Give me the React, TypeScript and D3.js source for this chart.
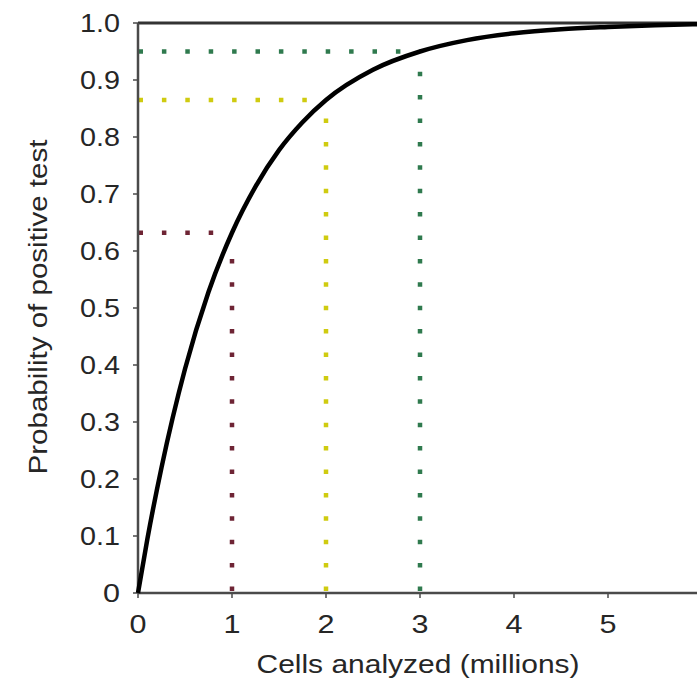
import React from "react";
import * as d3 from "d3";

const curveX = [0, 0.1, 0.25, 0.5, 0.75, 1, 1.25, 1.5, 1.75, 2, 2.5, 3, 3.5, 4, 4.5, 5, 5.5, 6];
const curveY = [0, 0.095, 0.22, 0.393, 0.528, 0.632, 0.713, 0.777, 0.826, 0.865, 0.918, 0.95, 0.97, 0.982, 0.989, 0.993, 0.996, 0.998];

const markerX = [1, 2, 3];
const markerY = [0.632, 0.865, 0.95];
const markerColors = ["#6e2434", "#cfcb10", "#2f7a4e"];

const xTicks = [0, 1, 2, 3, 4, 5];
const xTickLabels = ["0", "1", "2", "3", "4", "5"];
const yTicks = [0, 0.1, 0.2, 0.3, 0.4, 0.5, 0.6, 0.7, 0.8, 0.9, 1.0];
const yTickLabels = ["0", "0.1", "0.2", "0.3", "0.4", "0.5", "0.6", "0.7", "0.8", "0.9", "1.0"];

const W = 697;
const H = 681;
const FONT = "'Liberation Sans', Arial, Helvetica, sans-serif";

export default function App() {
  const x = d3.scaleLinear().domain([0, 6]).range([138, 702]);
  const y = d3.scaleLinear().domain([0, 1]).range([593, 23]);
  const pts: [number, number][] = curveX.map((v, i) => [v, curveY[i]]);
  const line = d3
    .line<[number, number]>()
    .x((d) => x(d[0]))
    .y((d) => y(d[1]))
    .curve(d3.curveMonotoneX);

  const axisColor = "#4a4a4a";
  const dash = "4.5 18.9";
  const textColor = "#262626";

  return (
    <svg
      width={W}
      height={H}
      style={{ position: "absolute", left: 0, top: 0, background: "#fff" }}
    >
      {/* marker dotted lines */}
      {markerX.map((mx, i) => (
        <g key={i}>
          <line
            x1={x(0) + 0.5}
            x2={x(mx)}
            y1={y(markerY[i])}
            y2={y(markerY[i])}
            stroke={markerColors[i]}
            strokeWidth={4.5}
            strokeDasharray={dash}
          />
          <line
            x1={x(mx)}
            x2={x(mx)}
            y1={y(0) - 2}
            y2={y(markerY[i]) + 8}
            stroke={markerColors[i]}
            strokeWidth={4.5}
            strokeDasharray={dash}
          />
        </g>
      ))}

      {/* top border */}
      <line x1={x(0)} x2={W} y1={y(1)} y2={y(1)} stroke="#333" strokeWidth={3} />
      {/* axes */}
      <line x1={x(0)} x2={x(0)} y1={y(1)} y2={y(0)} stroke={axisColor} strokeWidth={2.5} />
      <line x1={x(0)} x2={W} y1={y(0)} y2={y(0)} stroke={axisColor} strokeWidth={2.5} />

      {/* y ticks */}
      {yTicks.map((t, i) => (
        <g key={"y" + i}>
          <line x1={x(0) - 5} x2={x(0)} y1={y(t)} y2={y(t)} stroke={axisColor} strokeWidth={1.5} />
          <text
            x={120}
            y={y(t) + 9}
            textAnchor="end"
            fontFamily={FONT}
            fontSize={26}
            fill={textColor}
            textLength={yTickLabels[i].length === 1 ? 17 : 40}
            lengthAdjust="spacingAndGlyphs"
          >
            {yTickLabels[i]}
          </text>
        </g>
      ))}

      {/* x ticks */}
      {xTicks.map((t, i) => (
        <g key={"x" + i}>
          <line x1={x(t)} x2={x(t)} y1={y(0)} y2={y(0) + 5} stroke={axisColor} strokeWidth={1.5} />
          <text
            x={x(t)}
            y={633}
            textAnchor="middle"
            fontFamily={FONT}
            fontSize={26}
            fill={textColor}
            textLength={17}
            lengthAdjust="spacingAndGlyphs"
          >
            {xTickLabels[i]}
          </text>
        </g>
      ))}

      {/* curve */}
      <path d={line(pts) || ""} fill="none" stroke="#000" strokeWidth={4.5} />

      {/* axis titles */}
      <text
        x={418}
        y={673}
        textAnchor="middle"
        fontFamily={FONT}
        fontSize={26}
        fill={textColor}
        textLength={323}
        lengthAdjust="spacingAndGlyphs"
      >
        Cells analyzed (millions)
      </text>
      <text
        transform={`translate(47, 307) rotate(-90)`}
        textAnchor="middle"
        fontFamily={FONT}
        fontSize={25}
        fill={textColor}
        textLength={335}
        lengthAdjust="spacingAndGlyphs"
      >
        Probability of positive test
      </text>
    </svg>
  );
}
